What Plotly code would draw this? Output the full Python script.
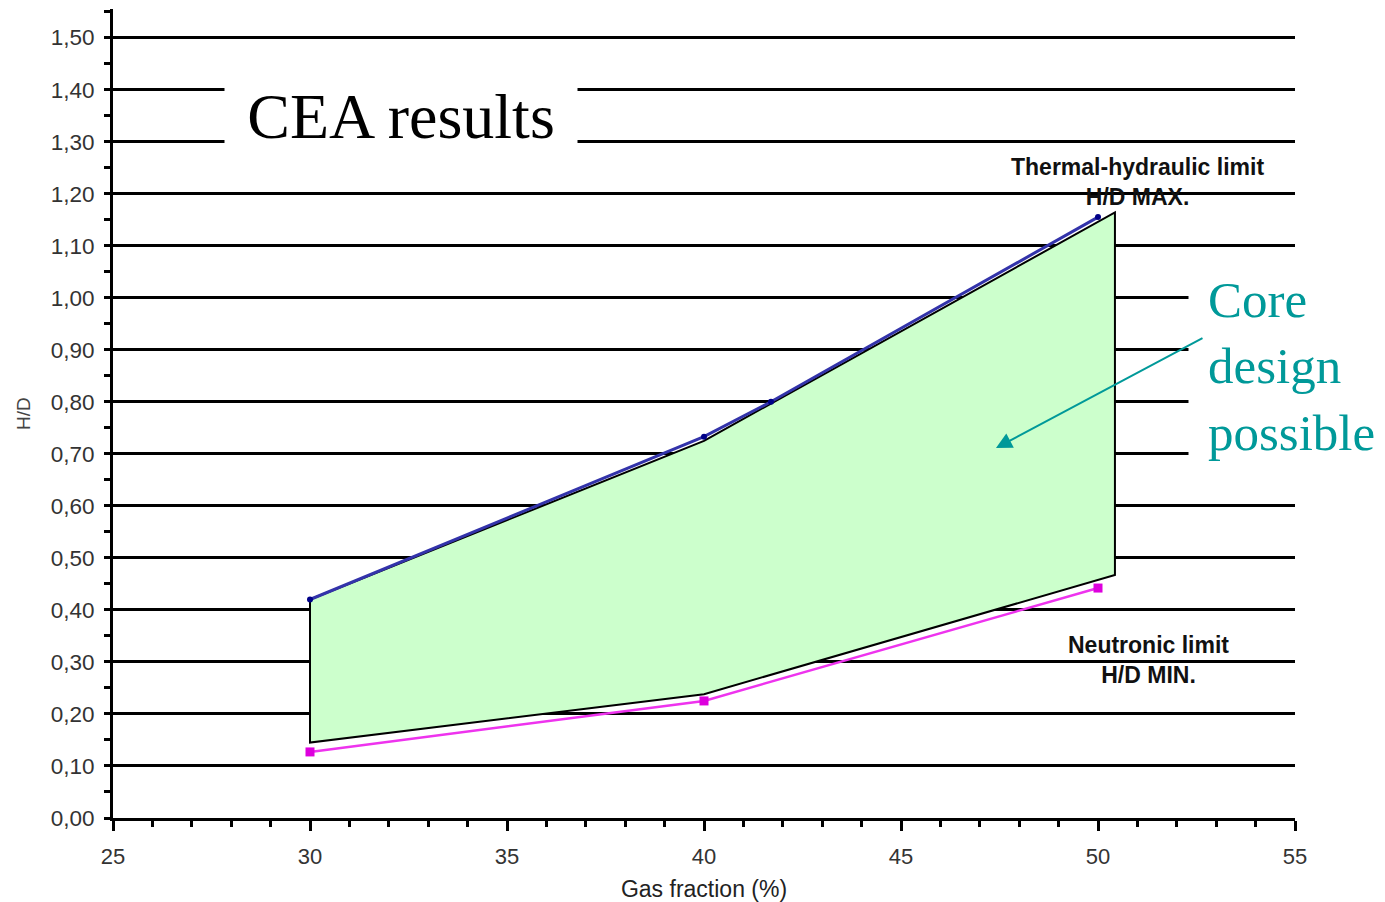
import plotly.graph_objects as go

# Thermal-hydraulic limit (H/D MAX.)
upper_x = [30, 40, 41.7, 50]
upper_y = [0.42, 0.733, 0.80, 1.155]

# Neutronic limit (H/D MIN.)
lower_x = [30, 40, 50]
lower_y = [0.127, 0.225, 0.442]

# Core design possible region (polygon vertices)
region_x = [30, 40, 50.43, 50.43, 40, 30, 30]
region_y = [0.42, 0.725, 1.164, 0.467, 0.238, 0.145, 0.42]

y_ticks = [i / 10 for i in range(16)]
x_ticks = [25, 30, 35, 40, 45, 50, 55]

TEAL = "#009999"
SERIF = "Liberation Serif, Times New Roman, serif"
SANS = "Liberation Sans, Arial, sans-serif"

fig = go.Figure()

fig.add_trace(go.Scatter(
    x=region_x, y=region_y, mode="lines", fill="toself",
    fillcolor="#CCFFCC", line=dict(color="black", width=2),
    hoverinfo="skip", showlegend=False))

fig.add_trace(go.Scatter(
    x=lower_x, y=lower_y, mode="lines+markers",
    line=dict(color="#EE33EE", width=2.5),
    marker=dict(symbol="square", size=9, color="#DD00DD"),
    showlegend=False))

fig.add_trace(go.Scatter(
    x=upper_x, y=upper_y, mode="lines+markers",
    line=dict(color="#3333AA", width=3),
    marker=dict(symbol="circle", size=6, color="#000088"),
    showlegend=False))

# Annotations
fig.add_annotation(
    x=32.32, y=1.349, xref="x", yref="y", text="CEA results",
    showarrow=False, bgcolor="white", width=350, height=100,
    font=dict(family=SERIF, size=64, color="black"))

fig.add_annotation(
    x=52.28, y=0.868, xref="x", yref="y", xanchor="left",
    text="Core<br>design<br>possible", align="left",
    showarrow=False, bgcolor="white", borderpad=19,
    font=dict(family=SERIF, size=51, color=TEAL))

fig.add_annotation(
    x=47.41, y=0.711, ax=52.69, ay=0.924, xref="x", yref="y",
    axref="x", ayref="y", text="", showarrow=True,
    arrowhead=2, arrowsize=1.6, arrowwidth=2, arrowcolor=TEAL)

fig.add_annotation(
    x=51.0, y=1.2226, xref="x", yref="y",
    text="<b>Thermal-hydraulic limit<br>H/D MAX.</b>",
    showarrow=False, align="center",
    font=dict(family=SANS, size=23, color="#111111"))

fig.add_annotation(
    x=51.27, y=0.3029, xref="x", yref="y",
    text="<b>Neutronic limit<br>H/D MIN.</b>",
    showarrow=False, align="center",
    font=dict(family=SANS, size=23, color="#111111"))

fig.update_layout(
    width=1377, height=894,
    margin=dict(l=105, r=90, t=1, b=84),
    paper_bgcolor="white", plot_bgcolor="white",
    separators=", ",
    showlegend=False,
)

fig.update_xaxes(
    range=[25, 55], tickvals=x_ticks, ticks="outside", ticklen=10,
    tickwidth=2.5, tickcolor="black", showline=True, linecolor="black",
    linewidth=3, showgrid=False, zeroline=False,
    tickfont=dict(family=SANS, size=22, color="#333333"),
    ticklabelstandoff=7,
    minor=dict(dtick=1, ticks="outside", ticklen=6, tickwidth=2.5,
               tickcolor="black", showgrid=False),
    title=dict(text="Gas fraction (%)", standoff=13,
               font=dict(family=SANS, size=23, color="#222222")),
)

fig.update_yaxes(
    range=[0, 1.555], tickvals=y_ticks, tickformat=".2f",
    ticks="outside", ticklen=6, tickwidth=2.5, tickcolor="black",
    showline=True, linecolor="black", linewidth=3,
    showgrid=True, gridcolor="black", gridwidth=2.5, zeroline=False,
    tickfont=dict(family=SANS, size=22.5, color="#333333"),
    ticklabelstandoff=5,
    minor=dict(dtick=0.05, ticks="outside", ticklen=6, tickwidth=2.5,
               tickcolor="black", showgrid=False),
    title=dict(text="H/D", standoff=16,
               font=dict(family=SANS, size=19, color="#444444")),
)

fig.write_html("out.html")
